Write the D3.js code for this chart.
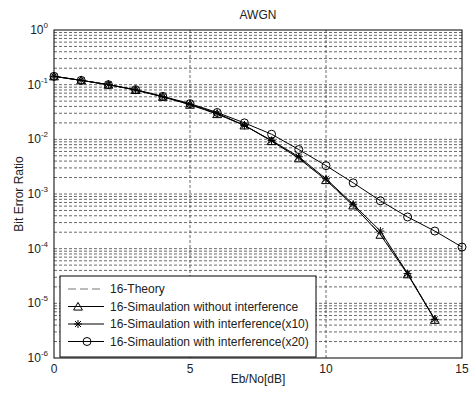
<!DOCTYPE html>
<html>
<head>
<meta charset="utf-8">
<script src="https://cdn.jsdelivr.net/npm/d3@7"></script>
<style>
  body { margin: 0; background: #fff; }
  text { font-family: "Liberation Sans", Arial, sans-serif; fill: #222; }
</style>
</head>
<body>
<svg id="chart" width="469" height="393"></svg>
<script>
// data
const ebno = [0, 1, 2, 3, 4, 5, 6, 7, 8, 9, 10, 11, 12, 13, 14];
const ebnoX20 = [0, 1, 2, 3, 4, 5, 6, 7, 8, 9, 10, 11, 12, 13, 14, 15];
const theory = [1.42e-1, 1.2e-1, 1.0e-1, 8.0e-2, 6.0e-2, 4.3e-2, 2.9e-2, 1.8e-2, 9.5e-3, 4.6e-3, 1.8e-3, 6.0e-4, 1.9e-4, 3.6e-5, 5.0e-6];
const simNoIntf = [1.42e-1, 1.2e-1, 1.0e-1, 8.0e-2, 6.0e-2, 4.3e-2, 2.9e-2, 1.8e-2, 9.3e-3, 4.5e-3, 1.8e-3, 6.2e-4, 1.8e-4, 3.4e-5, 5.0e-6];
const simX10 = [1.42e-1, 1.2e-1, 1.0e-1, 8.0e-2, 6.0e-2, 4.4e-2, 3.0e-2, 1.8e-2, 9.5e-3, 4.8e-3, 1.9e-3, 6.5e-4, 2.1e-4, 3.5e-5, 5.1e-6];
const simX20 = [1.42e-1, 1.2e-1, 1.0e-1, 8.1e-2, 6.1e-2, 4.5e-2, 3.1e-2, 2.0e-2, 1.24e-2, 6.5e-3, 3.3e-3, 1.6e-3, 7.5e-4, 3.8e-4, 2.1e-4, 1.07e-4];
const xTicks = [0, 5, 10, 15];
const yExps = [0, -1, -2, -3, -4, -5, -6];
const legendLabels = ["16-Theory", "16-Simaulation without interference", "16-Simaulation with interference(x10)", "16-Simaulation with interference(x20)"];

const W = 469, H = 393;
const margin = {top: 30, right: 7, bottom: 35, left: 54};
const w = W - margin.left - margin.right;
const h = H - margin.top - margin.bottom;

const svg = d3.select("#chart");
const g = svg.append("g").attr("transform", `translate(${margin.left},${margin.top})`);

const x = d3.scaleLinear().domain([0, 15]).range([0, w]);
const y = d3.scaleLog().domain([1e-6, 1]).range([h, 0]);

// grid: major x, major + minor y
const gridColor = "#444";
g.selectAll(".xgrid")
  .data(xTicks.slice(1, -1))
  .enter().append("line")
    .attr("x1", d => x(d)).attr("x2", d => x(d))
    .attr("y1", 0).attr("y2", h)
    .attr("stroke", gridColor).attr("stroke-width", 0.8)
    .attr("stroke-dasharray", "3,2");

const yGrid = [];
for (let e = -6; e < 0; e++) {
  for (let m = 1; m < 10; m++) yGrid.push(m * Math.pow(10, e));
}
g.selectAll(".ygrid")
  .data(yGrid.filter(d => d > 1e-6))
  .enter().append("line")
    .attr("x1", 0).attr("x2", w)
    .attr("y1", d => y(d)).attr("y2", d => y(d))
    .attr("stroke", gridColor).attr("stroke-width", 0.8)
    .attr("stroke-dasharray", "3,2");

// frame
g.append("rect")
  .attr("width", w).attr("height", h)
  .attr("fill", "none").attr("stroke", "#000").attr("stroke-width", 1);

// ticks
g.selectAll(".xt")
  .data(xTicks)
  .enter().append("text")
    .attr("x", d => x(d)).attr("y", h + 15)
    .attr("text-anchor", "middle")
    .style("font-size", "12px")
    .text(d => d);

const yt = g.selectAll(".yt")
  .data(yExps)
  .enter().append("text")
    .attr("x", -6).attr("y", d => y(Math.pow(10, d)) + 4)
    .attr("text-anchor", "end")
    .style("font-size", "12px");
yt.append("tspan").text("10");
yt.append("tspan").attr("dy", -6).style("font-size", "8px").text(d => d);

// labels
svg.append("text")
  .attr("x", margin.left + w / 2).attr("y", 19)
  .attr("text-anchor", "middle").style("font-size", "12px")
  .text("AWGN");
svg.append("text")
  .attr("x", margin.left + w / 2).attr("y", 383)
  .attr("text-anchor", "middle").style("font-size", "12px")
  .text("Eb/No[dB]");
svg.append("text")
  .attr("transform", `translate(23,${margin.top + h / 2}) rotate(-90)`)
  .attr("text-anchor", "middle").style("font-size", "12px")
  .text("Bit Error Ratio");

// series
const line = d3.line().x(d => x(d[0])).y(d => y(d[1]));
const zip = (xs, ys) => xs.map((v, i) => [v, ys[i]]);

const series = [
  {pts: zip(ebno, theory), dash: "8,4", color: "#777", marker: null, lx: 27},
  {pts: zip(ebno, simNoIntf), dash: null, color: "#000", marker: "triangle", lx: 18},
  {pts: zip(ebno, simX10), dash: null, color: "#000", marker: "star", lx: 18},
  {pts: zip(ebnoX20, simX20), dash: null, color: "#000", marker: "circle", lx: 27}
];

const triSym = d3.symbol().type(d3.symbolTriangle).size(34);
const starPath = "M-4,0H4M0,-4V4M-3,-3L3,3M-3,3L3,-3";

function drawMarker(sel, type) {
  if (type === "triangle") {
    sel.append("path").attr("d", triSym()).attr("transform", "translate(0,1)")
      .attr("fill", "none").attr("stroke", "#000").attr("stroke-width", 1);
  } else if (type === "star") {
    sel.append("path").attr("d", starPath)
      .attr("fill", "none").attr("stroke", "#000").attr("stroke-width", 1);
  } else if (type === "circle") {
    sel.append("circle").attr("r", 4)
      .attr("fill", "none").attr("stroke", "#000").attr("stroke-width", 1);
  }
}

series.forEach(s => {
  g.append("path")
    .attr("d", line(s.pts))
    .attr("fill", "none")
    .attr("stroke", s.color)
    .attr("stroke-width", 1)
    .attr("stroke-dasharray", s.dash);
  if (s.marker) {
    s.pts.forEach(p => {
      const m = g.append("g").attr("transform", `translate(${x(p[0])},${y(p[1])})`);
      drawMarker(m, s.marker);
    });
  }
});

// legend
const lg = g.append("g").attr("transform", "translate(6,246)");
lg.append("rect")
  .attr("width", 256).attr("height", 81)
  .attr("fill", "#fff").attr("stroke", "#000").attr("stroke-width", 1);
legendLabels.forEach((lab, i) => {
  const yy = 13 + i * 17.5;
  const s = series[i];
  lg.append("line")
    .attr("x1", 8).attr("x2", 44).attr("y1", yy).attr("y2", yy)
    .attr("stroke", s.color).attr("stroke-width", 1)
    .attr("stroke-dasharray", s.dash);
  const m = lg.append("g").attr("transform", `translate(${s.lx},${yy})`);
  drawMarker(m, s.marker);
  lg.append("text")
    .attr("x", 50).attr("y", yy + 4)
    .style("font-size", "12px")
    .text(lab);
});
</script>
</body>
</html>
